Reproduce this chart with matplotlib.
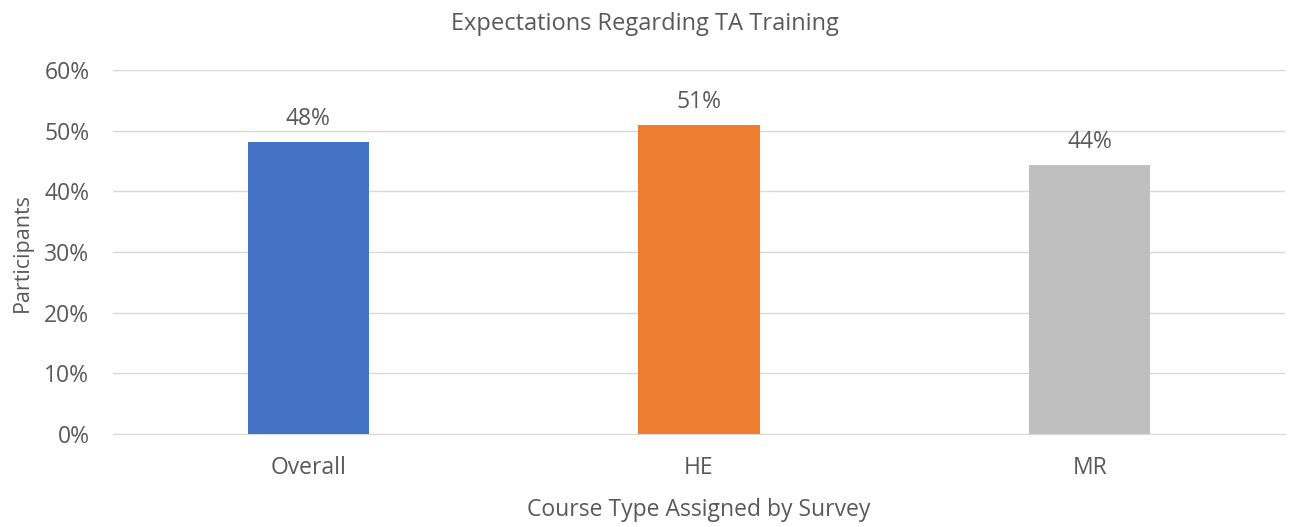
import matplotlib.pyplot as plt
from matplotlib.ticker import PercentFormatter

categories = ["Overall", "HE", "MR"]
values = [0.481, 0.509, 0.444]
bar_colors = ["#4472C4", "#ED7D31", "#BFBFBF"]

plt.rcParams['font.family'] = ['Open Sans', 'DejaVu Sans']
text_color = "#595959"
fs = 16.5

fig = plt.figure(figsize=(12.89, 5.27), dpi=100)
ax = fig.add_axes([113 / 1289, 1 - 434 / 527, (1285 - 113) / 1289, (434 - 70) / 527])

x = range(len(categories))
bars = ax.bar(x, values, width=0.31, color=bar_colors, zorder=3)
for b, v in zip(bars, values):
    ax.annotate(f"{v:.0%}", (b.get_x() + b.get_width() / 2, v),
                xytext=(0, 8), textcoords="offset points",
                ha="center", va="bottom", fontsize=fs, color=text_color)

ax.set_xlim(-0.5, 2.5)
ax.set_ylim(0, 0.6)
ax.set_yticks([i / 10 for i in range(7)])
ax.yaxis.set_major_formatter(PercentFormatter(1.0, decimals=0))
ax.set_xticks(list(x))
ax.set_xticklabels(categories)
ax.tick_params(axis="y", length=0, labelsize=fs, colors=text_color, pad=17)
ax.tick_params(axis="x", length=0, labelsize=fs, colors=text_color, pad=16)
ax.grid(axis="y", color="#D9D9D9", linewidth=1, zorder=0)
for s in ["top", "right", "left"]:
    ax.spines[s].set_visible(False)
ax.spines["bottom"].set_color("#D9D9D9")

ax.set_xlabel("Course Type Assigned by Survey", fontsize=fs, color=text_color, labelpad=13)
ax.set_ylabel("Participants", fontsize=15.5, color=text_color, labelpad=8)
fig.suptitle("Expectations Regarding TA Training", fontsize=17, color=text_color, y=0.978)

fig.savefig("out.png", dpi=100)
